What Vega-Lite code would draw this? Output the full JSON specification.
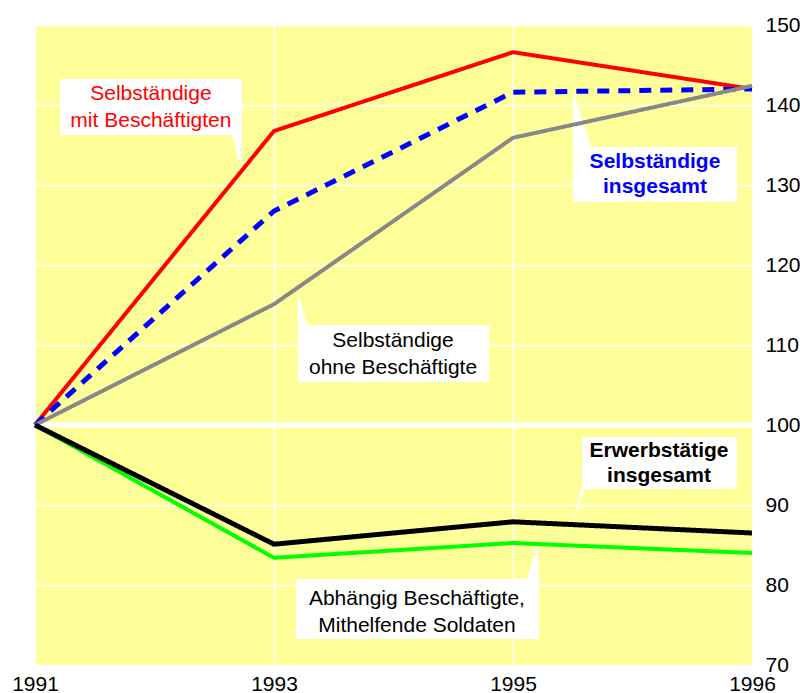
{
  "$schema": "https://vega.github.io/schema/vega-lite/v6.json",
  "autosize": "none",
  "width": 717,
  "height": 640,
  "padding": {"left": 35, "top": 25, "right": 48, "bottom": 28},
  "background": "white",
  "config": {
    "view": {"fill": "#ffff99", "stroke": null},
    "font": "Liberation Sans",
    "text": {"font": "Liberation Sans"}
  },
  "datasets": {
    "series": [
      {"series": "Selbständige mit Beschäftigten", "year": "1991", "value": 100},
      {"series": "Selbständige mit Beschäftigten", "year": "1993", "value": 136.75},
      {"series": "Selbständige mit Beschäftigten", "year": "1995", "value": 146.6},
      {"series": "Selbständige mit Beschäftigten", "year": "1996", "value": 142.0},
      {"series": "Selbständige insgesamt", "year": "1991", "value": 100},
      {"series": "Selbständige insgesamt", "year": "1993", "value": 126.75},
      {"series": "Selbständige insgesamt", "year": "1995", "value": 141.6},
      {"series": "Selbständige insgesamt", "year": "1996", "value": 142.0},
      {"series": "Selbständige ohne Beschäftigte", "year": "1991", "value": 100},
      {"series": "Selbständige ohne Beschäftigte", "year": "1993", "value": 115.1},
      {"series": "Selbständige ohne Beschäftigte", "year": "1995", "value": 135.9},
      {"series": "Selbständige ohne Beschäftigte", "year": "1996", "value": 142.4},
      {"series": "Abhängig Beschäftigte, Mithelfende Soldaten", "year": "1991", "value": 100},
      {"series": "Abhängig Beschäftigte, Mithelfende Soldaten", "year": "1993", "value": 83.4},
      {"series": "Abhängig Beschäftigte, Mithelfende Soldaten", "year": "1995", "value": 85.25},
      {"series": "Abhängig Beschäftigte, Mithelfende Soldaten", "year": "1996", "value": 84.0},
      {"series": "Erwerbstätige insgesamt", "year": "1991", "value": 100},
      {"series": "Erwerbstätige insgesamt", "year": "1993", "value": 85.1},
      {"series": "Erwerbstätige insgesamt", "year": "1995", "value": 87.9},
      {"series": "Erwerbstätige insgesamt", "year": "1996", "value": 86.5}
    ],
    "boxes": [
      {"id": "red", "x1": 0.105, "x2": 0.866, "y1": 143.25, "y2": 136.25},
      {"id": "blue", "x1": 2.251, "x2": 2.937, "y1": 134.75, "y2": 127.875},
      {"id": "gray", "x1": 1.100, "x2": 1.900, "y1": 112.5, "y2": 105.375},
      {"id": "black", "x1": 2.289, "x2": 2.937, "y1": 98.5, "y2": 92.0},
      {"id": "green", "x1": 1.092, "x2": 2.109, "y1": 80.75, "y2": 73.25}
    ],
    "pointers": [
      {"id": "red", "px": 0.816, "top": 136.9, "bottom": 136.9},
      {"id": "red", "px": 0.862, "top": 136.9, "bottom": 132.125},
      {"id": "red", "px": 0.866, "top": 136.9, "bottom": 136.9},
      {"id": "blue", "px": 2.251, "top": 141.875, "bottom": 134.4},
      {"id": "blue", "px": 2.331, "top": 134.4, "bottom": 134.4},
      {"id": "gray", "px": 1.1004, "top": 116.625, "bottom": 112.1},
      {"id": "gray", "px": 1.1423, "top": 112.1, "bottom": 112.1},
      {"id": "green", "px": 2.0544, "top": 80.4, "bottom": 80.4},
      {"id": "green", "px": 2.1046, "top": 85.25, "bottom": 80.4},
      {"id": "green", "px": 2.1088, "top": 80.4, "bottom": 80.4},
      {"id": "black", "px": 2.2469, "top": 87.625, "bottom": 87.625},
      {"id": "black", "px": 2.2887, "top": 92.4, "bottom": 91.01},
      {"id": "black", "px": 2.3054, "top": 92.4, "bottom": 92.4}
    ],
    "labels": [
      {"id": "red", "tx": 0.485, "ty": 141.4, "label": "Selbständige\nmit Beschäftigten"},
      {"id": "blue", "tx": 2.594, "ty": 132.9, "label": "Selbständige\ninsgesamt"},
      {"id": "gray", "tx": 1.498, "ty": 110.5, "label": "Selbständige\nohne Beschäftigte"},
      {"id": "black", "tx": 2.611, "ty": 96.8, "label": "Erwerbstätige\ninsgesamt"},
      {"id": "green", "tx": 1.598, "ty": 78.3, "label": "Abhängig Beschäftigte,\nMithelfende Soldaten"}
    ]
  },
  "layer": [
    {
      "data": {"name": "series"},
      "mark": {"type": "line", "opacity": 0},
      "encoding": {
        "x": {
          "field": "year", "type": "ordinal",
          "scale": {"type": "point", "padding": 0},
          "axis": {
            "title": null, "labelAngle": 0, "domain": false, "ticks": false,
            "grid": true, "gridColor": "white", "gridWidth": 1.5, "gridOpacity": 1,
            "labelFont": "Liberation Sans", "labelFontSize": 21, "labelColor": "black",
            "labelPadding": 8, "labelFlush": false
          }
        },
        "y": {
          "field": "value", "type": "quantitative",
          "scale": {"domain": [70, 150], "nice": false, "zero": false},
          "axis": {
            "orient": "right", "title": null, "domain": false, "ticks": false,
            "values": [70, 80, 90, 100, 110, 120, 130, 140, 150],
            "grid": true, "gridColor": "white", "gridWidth": 1.5, "gridOpacity": 1,
            "labelFont": "Liberation Sans", "labelFontSize": 21, "labelColor": "black",
            "labelPadding": 13, "labelFlush": false
          }
        },
        "detail": {"field": "series"}
      }
    },
    {
      "data": {"values": [{"ref": 100}]},
      "mark": {"type": "rule", "color": "white", "strokeWidth": 5},
      "encoding": {"y": {"field": "ref", "type": "quantitative"}}
    },
    {
      "data": {"name": "pointers"},
      "mark": {"type": "area", "color": "white", "orient": "vertical", "opacity": 1},
      "encoding": {
        "x": {"field": "px", "type": "quantitative", "scale": {"domain": [0, 3], "nice": false, "zero": false}, "axis": null},
        "y": {"field": "top", "type": "quantitative", "stack": null},
        "y2": {"field": "bottom"},
        "detail": {"field": "id"}
      }
    },
    {
      "data": {"name": "boxes"},
      "mark": {"type": "rect", "color": "white"},
      "encoding": {
        "x": {"field": "x1", "type": "quantitative", "scale": {"domain": [0, 3], "nice": false, "zero": false}, "axis": null},
        "x2": {"field": "x2"},
        "y": {"field": "y1", "type": "quantitative"},
        "y2": {"field": "y2"}
      }
    },
    {
      "data": {"name": "labels"},
      "transform": [{"filter": "datum.id === 'red'"}],
      "mark": {"type": "text", "color": "#ff0000", "fontSize": 21, "lineBreak": "\n", "lineHeight": 27, "align": "center", "baseline": "middle", "font": "Liberation Sans"},
      "encoding": {
        "x": {"field": "tx", "type": "quantitative", "scale": {"domain": [0, 3], "nice": false, "zero": false}, "axis": null},
        "y": {"field": "ty", "type": "quantitative"},
        "text": {"field": "label"}
      }
    },
    {
      "data": {"name": "labels"},
      "transform": [{"filter": "datum.id === 'blue'"}],
      "mark": {"type": "text", "color": "#0000ff", "fontSize": 21, "fontWeight": "bold", "lineBreak": "\n", "lineHeight": 25, "align": "center", "baseline": "middle", "font": "Liberation Sans"},
      "encoding": {
        "x": {"field": "tx", "type": "quantitative", "scale": {"domain": [0, 3], "nice": false, "zero": false}, "axis": null},
        "y": {"field": "ty", "type": "quantitative"},
        "text": {"field": "label"}
      }
    },
    {
      "data": {"name": "labels"},
      "transform": [{"filter": "datum.id === 'black'"}],
      "mark": {"type": "text", "color": "black", "fontSize": 21, "fontWeight": "bold", "lineBreak": "\n", "lineHeight": 25, "align": "center", "baseline": "middle", "font": "Liberation Sans"},
      "encoding": {
        "x": {"field": "tx", "type": "quantitative", "scale": {"domain": [0, 3], "nice": false, "zero": false}, "axis": null},
        "y": {"field": "ty", "type": "quantitative"},
        "text": {"field": "label"}
      }
    },
    {
      "data": {"name": "labels"},
      "transform": [{"filter": "datum.id === 'gray' || datum.id === 'green'"}],
      "mark": {"type": "text", "color": "black", "fontSize": 21, "lineBreak": "\n", "lineHeight": 27, "align": "center", "baseline": "middle", "font": "Liberation Sans"},
      "encoding": {
        "x": {"field": "tx", "type": "quantitative", "scale": {"domain": [0, 3], "nice": false, "zero": false}, "axis": null},
        "y": {"field": "ty", "type": "quantitative"},
        "text": {"field": "label"}
      }
    },
    {
      "data": {"name": "series"},
      "mark": {"type": "line", "strokeJoin": "miter", "strokeCap": "butt"},
      "encoding": {
        "x": {"field": "year", "type": "ordinal", "scale": {"type": "point", "padding": 0}, "axis": null},
        "y": {"field": "value", "type": "quantitative"},
        "color": {
          "field": "series", "type": "nominal", "legend": null,
          "scale": {
            "domain": ["Selbständige mit Beschäftigten", "Selbständige insgesamt", "Selbständige ohne Beschäftigte", "Abhängig Beschäftigte, Mithelfende Soldaten", "Erwerbstätige insgesamt"],
            "range": ["#ff0000", "#0000ff", "#888888", "#00ff00", "#000000"]
          }
        },
        "strokeDash": {
          "field": "series", "type": "nominal", "legend": null,
          "scale": {
            "domain": ["Selbständige mit Beschäftigten", "Selbständige insgesamt", "Selbständige ohne Beschäftigte", "Abhängig Beschäftigte, Mithelfende Soldaten", "Erwerbstätige insgesamt"],
            "range": [[1, 0], [12, 9], [1, 0], [1, 0], [1, 0]]
          }
        },
        "strokeWidth": {
          "field": "series", "type": "nominal", "legend": null,
          "scale": {
            "type": "ordinal",
            "domain": ["Selbständige mit Beschäftigten", "Selbständige insgesamt", "Selbständige ohne Beschäftigte", "Abhängig Beschäftigte, Mithelfende Soldaten", "Erwerbstätige insgesamt"],
            "range": [4, 5, 4, 4, 5]
          }
        }
      }
    }
  ],
  "resolve": {"scale": {"x": "independent"}}
}
